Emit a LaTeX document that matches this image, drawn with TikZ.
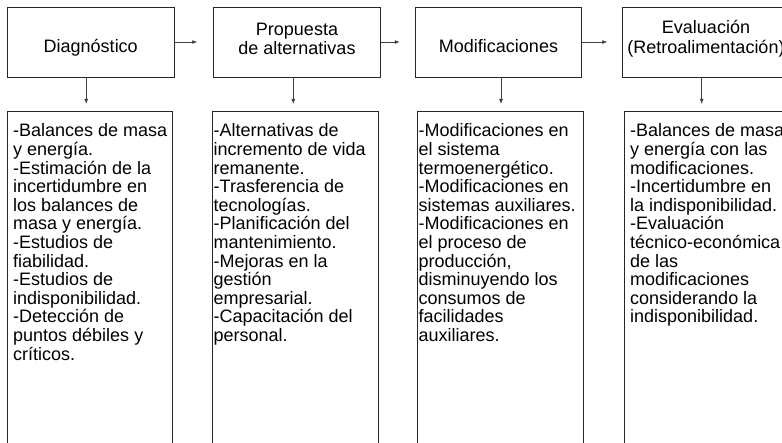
\documentclass[tikz,border=0pt]{standalone}
\usepackage{fontspec}
\setmainfont{Liberation Sans}
\usetikzlibrary{arrows.meta}
\newcommand\myfont{\fontsize{18}{18.6}\selectfont\lineskiplimit=-40pt\lineskip=0pt}
\newcommand\colbox[1]{\parbox[t]{200pt}{\myfont #1}}
\begin{document}
\begin{tikzpicture}[x=1pt,y=-1pt,
  box/.style={draw=black!85, line width=0.9pt, inner sep=0pt},
  topbox/.style={box, minimum width=166.5pt, minimum height=70pt},
  botbox/.style={box, minimum width=166pt, minimum height=360pt, anchor=north},
  ttl/.style={inner sep=0pt, anchor=base, font=\myfont},
  txt/.style={inner sep=0pt, anchor=base west, font=\myfont},
  arr/.style={draw=black!75, line width=0.8pt, -{Latex[length=5pt,width=4pt]}}]
\clip (0,0) rectangle (782,443);
\fill[white] (0,0) rectangle (782,443);
% top boxes
\node[topbox] (diag) at (90.75,42) {};
\node[topbox] (prop) at (297,42) {};
\node[topbox] (mod)  at (498.5,42) {};
\node[topbox] (eval) at (706,42) {};
\node[ttl] (diagT) at (90.75,53) {Diagnóstico};
\node[ttl] (propT1) at (297,35.5) {Propuesta};
\node[ttl] (propT2) at (297,55) {de alternativas};
\node[ttl] (modT) at (498.5,53) {Modificaciones};
\node[ttl] (evalT1) at (706,34) {Evaluación};
\node[ttl] (evalT2) at (706,53.5) {(Retroalimentación)};
% bottom boxes
\node[botbox, minimum width=165pt] (diagB) at (89.8,111) {};
\node[botbox] (propB) at (295.7,111) {};
\node[botbox] (modB) at (500,111) {};
\node[botbox] (evalB) at (707.5,111) {};
\node[txt] (diagL) at (13,137) {\colbox{-Balances de masa\\y energía.\\-Estimación de la\\incertidumbre en\\los balances de\\masa y energía.\\-Estudios de\\fiabilidad.\\-Estudios de\\indisponibilidad.\\-Detección de\\puntos débiles y\\críticos.}};
\node[txt] (propL) at (213.5,137) {\colbox{-Alternativas de\\incremento de vida\\remanente.\\-Trasferencia de\\tecnologías.\\-Planificación del\\mantenimiento.\\-Mejoras en la\\gestión\\empresarial.\\-Capacitación del\\personal.}};
\node[txt] (modL) at (418.5,137) {\colbox{-Modificaciones en\\el sistema\\termoenergético.\\-Modificaciones en\\sistemas auxiliares.\\-Modificaciones en\\el proceso de\\producción,\\disminuyendo los\\consumos de\\facilidades\\auxiliares.}};
\node[txt] (evalL) at (630,137) {\colbox{-Balances de masa\\y energía con las\\modificaciones.\\-Incertidumbre en\\la indisponibilidad.\\-Evaluación\\técnico-económica\\de las\\modificaciones\\considerando la\\indisponibilidad.}};
% arrows
\draw[arr] (diag.east) -- ([xshift=-16pt]prop.west);
\draw[arr] (prop.east) -- ([xshift=-15pt]mod.west);
\draw[arr] (mod.east) -- ([xshift=-15pt]eval.west);
\draw[arr] ([xshift=-4.5pt]diag.south) -- ([xshift=-4.5pt,yshift=7pt]diag.south |- diagB.north);
\draw[arr] ([xshift=-3.7pt]prop.south) -- ([xshift=-3.7pt,yshift=7pt]prop.south |- propB.north);
\draw[arr] ([xshift=2.5pt]mod.south) -- ([xshift=2.5pt,yshift=7pt]mod.south |- modB.north);
\draw[arr] ([xshift=-4.3pt]eval.south) -- ([xshift=-4.3pt,yshift=7pt]eval.south |- evalB.north);
\end{tikzpicture}
\end{document}
